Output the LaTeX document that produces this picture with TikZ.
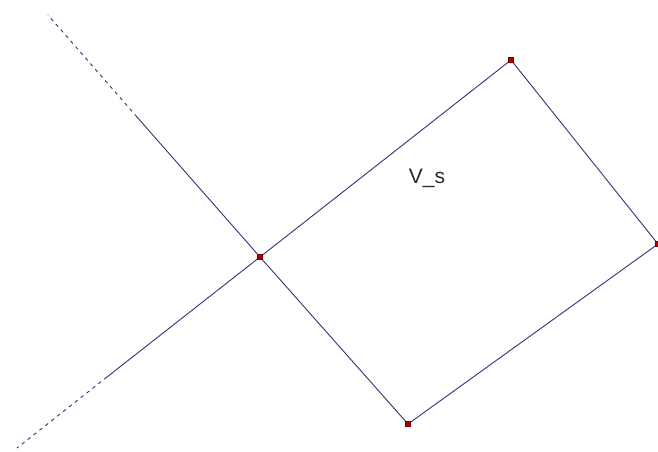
\documentclass[tikz,border=0pt]{standalone}
\usepackage{fontspec}
\setmainfont{Liberation Sans}
\begin{document}
\begin{tikzpicture}[x=1pt,y=-1pt,
  seg/.style={draw={rgb,255:red,50;green,50;blue,120}, line width=0.9pt},
  dsh/.style={seg, dash pattern=on 3.5pt off 4pt},
  pt/.style={fill={rgb,255:red,170;green,0;blue,0}, draw={rgb,255:red,120;green,0;blue,0}, line width=0.4pt, inner sep=0pt, minimum size=5pt, rectangle}]
\useasboundingbox (0,0) rectangle (658,452);
\coordinate (C) at (260,257);
\coordinate (T) at (511,60);
\coordinate (B) at (408,424);
\coordinate (R) at (658,244);
\coordinate (UL) at (137,117);
\coordinate (ULend) at (48,15);
\coordinate (LL) at (107,377);
\coordinate (LLend) at (17,448);
\draw[seg] (UL) -- (C) -- (B) -- (R) -- (T) -- (C) -- (LL);
\draw[dsh] (UL) -- (ULend);
\draw[dsh] (LL) -- (LLend);
\node[pt] (pC) at (C) {};
\node[pt] (pT) at (T) {};
\node[pt] (pB) at (B) {};
\node[pt] (pR) at (R) {};
\node[font=\fontsize{21}{24}\selectfont, text={rgb,255:red,40;green,40;blue,40}] (lbl) at (427,178) {V\_s};
\end{tikzpicture}
\end{document}
